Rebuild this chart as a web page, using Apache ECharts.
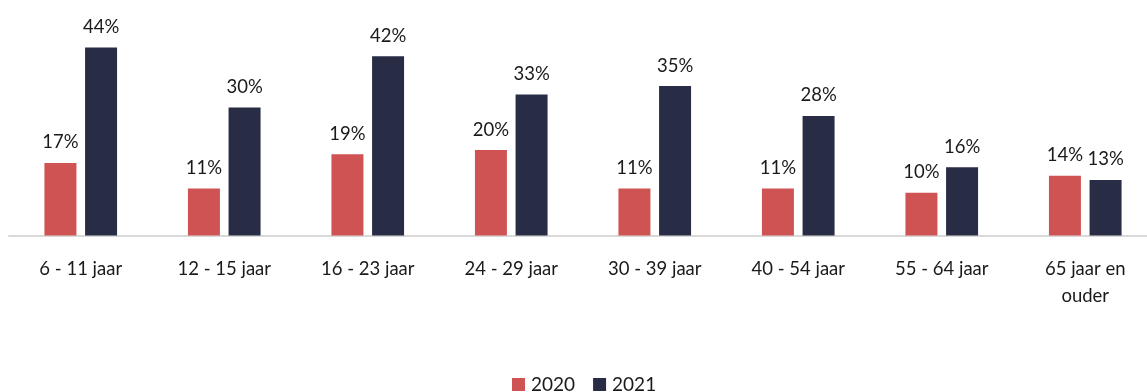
<!DOCTYPE html>
<html>
<head>
<meta charset="utf-8">
<script src="https://cdn.jsdelivr.net/npm/echarts@6/dist/echarts.min.js"></script>
<style>
  html, body { margin: 0; padding: 0; background: #fff; overflow: hidden; }
  #chart { width: 1160px; height: 392px; }
</style>
</head>
<body>
<div id="chart"></div>
<script>
// Age groups on the x axis
const categories = ['6 - 11 jaar', '12 - 15 jaar', '16 - 23 jaar', '24 - 29 jaar', '30 - 39 jaar', '40 - 54 jaar', '55 - 64 jaar', '65 jaar en\nouder'];
// Share per age group, in percent
const values2020 = [17, 11, 19, 20, 11, 11, 10, 14];
const values2021 = [44, 30, 42, 33, 35, 28, 16, 13];
const seriesNames = ['2020', '2021'];

const FONT = 'Lato, "Open Sans", sans-serif';
const TEXT = '#1a1a1a';

const chart = echarts.init(document.getElementById('chart'), null, { renderer: 'canvas' });

const labelStyle = {
  show: true,
  position: 'top',
  distance: 11,
  formatter: '{c}%',
  fontFamily: FONT,
  fontSize: 18.5,
  color: TEXT
};

chart.setOption({
  animation: false,
  grid: { left: 9, top: 22, width: 1148, height: 213.5, containLabel: false },
  legend: {
    data: seriesNames,
    left: 507,
    top: 370,
    itemWidth: 13,
    itemHeight: 13,
    itemGap: 18,
    icon: 'rect',
    textStyle: { fontFamily: FONT, fontSize: 19, color: TEXT, padding: [0, 0, 0, 1] }
  },
  xAxis: {
    type: 'category',
    data: categories,
    axisLine: { lineStyle: { color: '#d9d9d9', width: 2 } },
    axisTick: { show: false },
    axisLabel: {
      interval: 0,
      margin: 20,
      fontFamily: FONT,
      fontSize: 18.5,
      lineHeight: 27,
      color: TEXT
    }
  },
  yAxis: {
    type: 'value',
    min: 0,
    max: 50,
    show: false,
    splitLine: { show: false }
  },
  series: [
    {
      name: seriesNames[0],
      type: 'bar',
      data: values2020,
      barWidth: 32,
      barGap: '27%',
      itemStyle: { color: '#D05353' },
      label: labelStyle
    },
    {
      name: seriesNames[1],
      type: 'bar',
      data: values2021,
      barWidth: 32,
      barGap: '27%',
      itemStyle: { color: '#282D45' },
      label: labelStyle
    }
  ]
});
</script>
</body>
</html>
